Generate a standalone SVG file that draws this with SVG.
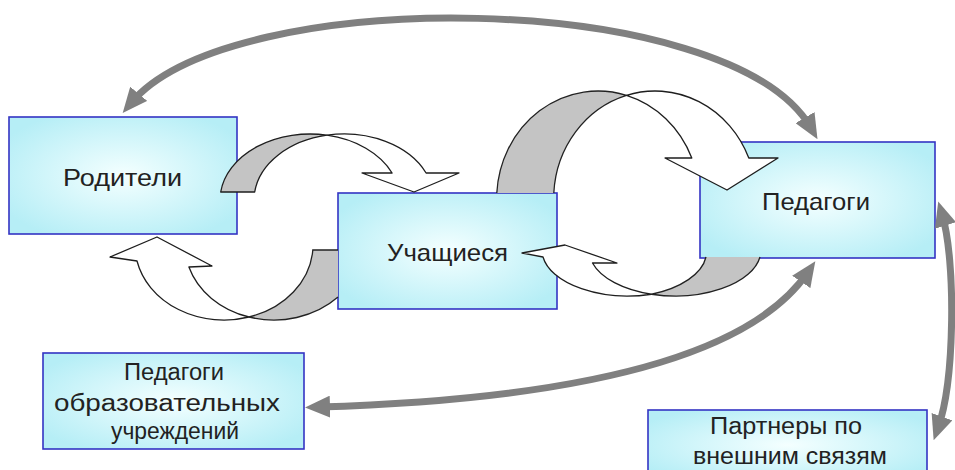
<svg xmlns="http://www.w3.org/2000/svg" width="955" height="470" viewBox="0 0 955 470">
<defs>
<radialGradient id="boxg" cx="50%" cy="50%" r="60%">
<stop offset="0" stop-color="#f4ffff"/>
<stop offset="1" stop-color="#b6eef6"/>
</radialGradient>
<marker id="ah" markerUnits="userSpaceOnUse" markerWidth="25" markerHeight="22" refX="12" refY="11" orient="auto-start-reverse" viewBox="0 0 25 22">
<path d="M0,0 L25,11 L0,22 Z" fill="#808080"/>
</marker>
<style>
.box{fill:url(#boxg);stroke:#3434c4;stroke-width:1.6}
.lbl{font-family:"Liberation Sans",Arial,sans-serif;font-size:24px;fill:#222;text-anchor:middle}
.sm{font-size:23px}
.rib{stroke:#1e1e1e;stroke-width:1.3;stroke-linejoin:round}
.front{fill:#ffffff}
.back{fill:#c4c4c4}
.line{fill:none;stroke:#222;stroke-width:1.3}
.conn{fill:none;stroke:#808080;stroke-width:7;marker-start:url(#ah);marker-end:url(#ah)}
</style>
</defs>
<rect width="955" height="470" fill="#ffffff"/>
<g id="node-roditeli">
<rect class="box" x="9" y="117" width="228" height="117"/>
<text class="lbl" x="122.5" y="186" textLength="119" lengthAdjust="spacingAndGlyphs">Родители</text>
</g>
<g id="node-pedagogi">
<rect class="box" x="700" y="142" width="235" height="116"/>
<text class="lbl" x="816" y="210" textLength="108" lengthAdjust="spacingAndGlyphs">Педагоги</text>
</g>
<g id="node-uchashchiesya">
<rect class="box" x="338" y="193" width="219" height="116"/>
<text class="lbl" x="447.5" y="261" textLength="121" lengthAdjust="spacingAndGlyphs">Учащиеся</text>
</g>
<g id="node-pedagogi-ou">
<rect class="box" x="43" y="353" width="261" height="96"/>
<text class="lbl sm" x="174" y="380" textLength="100" lengthAdjust="spacingAndGlyphs">Педагоги</text>
<text class="lbl sm" x="167" y="411" textLength="226" lengthAdjust="spacingAndGlyphs">образовательных</text>
<text class="lbl sm" x="175" y="439" textLength="128" lengthAdjust="spacingAndGlyphs">учреждений</text>
</g>
<g id="node-partnery">
<rect class="box" x="648" y="410" width="279" height="70"/>
<text class="lbl sm" x="786" y="434" textLength="152" lengthAdjust="spacingAndGlyphs">Партнеры по</text>
<text class="lbl sm" x="790" y="464" textLength="194" lengthAdjust="spacingAndGlyphs">внешним связям</text>
</g>
<g id="connectors">
<path class="rib back" d="M220.7 192 A90 66 0 0 1 327 135.2 A90 66 0 0 0 254.7 192 Z"/>
<path class="rib front" d="M327 135.2 A90 66 0 0 1 426.1 173 L459 173 L414 192 L362 173 L392.1 173 A90 66 0 0 0 327 135.2 Z"/>
<path class="back" d="M496.8 193 A101.4 108 0 0 1 626.5 95.35 A101.4 108 0 0 0 553.8 193 Z"/>
<path class="line" d="M496.8 193 A101.4 108 0 0 1 626.5 95.35 A101.4 108 0 0 0 553.8 193"/>
<path class="rib front" d="M626.5 95.35 A101.4 108 0 0 1 748.8 158 L778 158 L727 190 L665 158 L691.8 158 A101.4 108 0 0 0 626.5 95.35 Z"/>
<path class="back" d="M312.8 250 A89 75 0 0 1 249 317 A89 75 0 0 0 338 297.1 L338 250 Z"/>
<path class="line" d="M338 250 L312.8 250 A89 75 0 0 1 249 317 A89 75 0 0 0 338 297.1"/>
<path class="rib front" d="M110 257 L157 237 L212 266 L188.9 267 A89 75 0 0 0 249 317 A89 75 0 0 1 137 261 Z"/>
<path class="back" d="M706 257 A86 46 0 0 1 651.5 294.25 A86 46 0 0 0 760 257 Z"/>
<path class="line" d="M706 257 A86 46 0 0 1 651.5 294.25 A86 46 0 0 0 760 257"/>
<path class="rib front" d="M522 253 L565 245 L617 263 L592.5 263 A86 46 0 0 0 651.5 294.25 A86 46 0 0 1 543 257 Z"/>
<path class="conn" d="M131 103 C230 -16, 730 -12, 811 128"/>
<path class="conn" d="M318 407 C520 401, 740 372, 808 272"/>
<path class="conn" d="M942 214 C956 260, 955 380, 938 428"/>
</g>
</svg>
